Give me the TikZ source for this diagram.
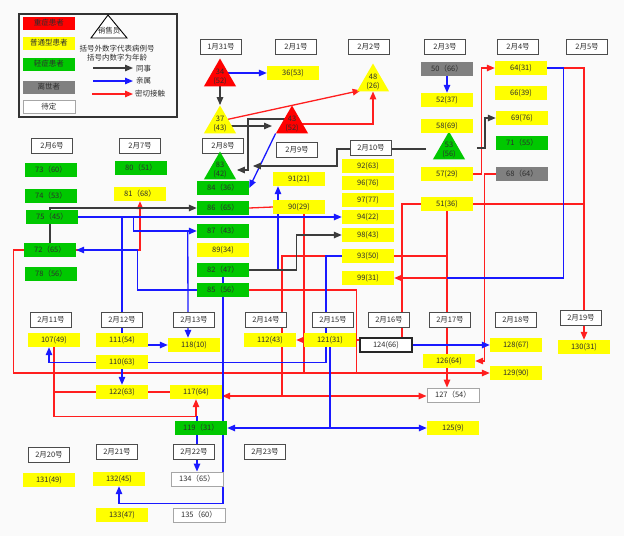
\documentclass[tikz,border=0pt]{standalone}
\usepackage{fontspec}
\setmainfont{Noto Sans CJK SC}
\usetikzlibrary{arrows.meta,shapes.geometric,calc}
\pgfdeclarelayer{back}
\pgfdeclarelayer{lines}
\pgfsetlayers{back,lines,main}

\definecolor{sevred}{RGB}{255,0,0}
\definecolor{normyel}{RGB}{255,255,0}
\definecolor{mildgrn}{RGB}{0,200,0}
\definecolor{deadgray}{RGB}{128,128,128}
\definecolor{linered}{RGB}{255,30,30}
\definecolor{lineblue}{RGB}{25,25,255}
\definecolor{linedark}{RGB}{60,60,60}
\definecolor{txt}{RGB}{45,45,45}

\tikzset{
  txtbase/.style={inner sep=0pt, font=\fontsize{7.5}{9}\selectfont, text=txt},
  ptcase/.style={txtbase, minimum width=52pt, minimum height=14pt},
  ptsev/.style={ptcase, fill=sevred},
  ptnorm/.style={ptcase, fill=normyel},
  ptmild/.style={ptcase, fill=mildgrn},
  ptdead/.style={ptcase, fill=deadgray},
  ptpend/.style={ptcase, fill=white, draw=black!35, line width=0.9pt},
  datebox/.style={txtbase, minimum width=41pt, minimum height=15pt, fill=white, draw=black!70, line width=1.1pt},
  tri/.style={regular polygon, regular polygon sides=3, minimum size=37pt, inner sep=0pt},
  arr/.style={-{Triangle[length=8pt,width=6.5pt]}},
  col/.style={draw=linedark, line width=1.3pt},
  kin/.style={draw=lineblue, line width=1.3pt},
  con/.style={draw=linered, line width=1.3pt},
}

\begin{document}
\begin{tikzpicture}[x=1pt,y=-1pt]
    \begin{pgfonlayer}{back}
        \fill[black!2] (0,0) rectangle (624,536);
    \end{pgfonlayer}
    \useasboundingbox (0,0) rectangle (624,536);

    % legend
    \draw[line width=1.2pt, draw=black!80] (19,14) rectangle (177,117);
    \node[ptsev, minimum height=13pt] (lgsev) at (49,23) {重症患者};
    \node[ptnorm, minimum height=13pt] (lgnorm) at (49,43) {普通型患者};
    \node[ptmild, minimum height=13pt] (lgmild) at (49,64) {轻症患者};
    \node[ptdead, minimum height=13pt] (lgdead) at (49,87) {离世者};
    \node[ptpend, minimum height=13pt] (lgpend) at (49,107) {待定};
    \draw[line width=0.9pt, fill=white] (91,38) -- (108,15) -- (127,38) -- cycle;
    \node[txtbase] (lgsales) at (109,31) {销售员};
    \node[txtbase] (lgnote1) at (117,49) {括号外数字代表病例号};
    \node[txtbase] (lgnote2) at (117,58) {括号内数字为年龄};
    \draw[col,arr] (93,68) -- (133,68);
    \draw[kin,arr] (93,81) -- (133,81);
    \draw[con,arr] (92,94) -- (133,94);
    \node[txtbase, anchor=west] (lgcol) at (136,69) {同事};
    \node[txtbase, anchor=west] (lgkin) at (136,81) {亲属};
    \node[txtbase, anchor=west] (lgcon) at (135,94) {密切接触};

    % dates
    \node[datebox] (d0131) at (221,47) {1月31号};
    \node[datebox] (d0201) at (296,47) {2月1号};
    \node[datebox] (d0202) at (369,47) {2月2号};
    \node[datebox] (d0203) at (445,47) {2月3号};
    \node[datebox] (d0204) at (518,47) {2月4号};
    \node[datebox] (d0205) at (587,47) {2月5号};
    \node[datebox] (d0206) at (52,146) {2月6号};
    \node[datebox] (d0207) at (140,146) {2月7号};
    \node[datebox] (d0208) at (223,146) {2月8号};
    \node[datebox] (d0209) at (297,150) {2月9号};
    \node[datebox] (d0210) at (371,148) {2月10号};
    \node[datebox] (d0211) at (51,320) {2月11号};
    \node[datebox] (d0212) at (122,320) {2月12号};
    \node[datebox] (d0213) at (194,320) {2月13号};
    \node[datebox] (d0214) at (266,320) {2月14号};
    \node[datebox] (d0215) at (333,320) {2月15号};
    \node[datebox] (d0216) at (389,320) {2月16号};
    \node[datebox] (d0217) at (450,320) {2月17号};
    \node[datebox] (d0218) at (516,320) {2月18号};
    \node[datebox] (d0219) at (581,318) {2月19号};
    \node[datebox] (d0220) at (49,455) {2月20号};
    \node[datebox] (d0221) at (117,452) {2月21号};
    \node[datebox] (d0222) at (194,452) {2月22号};
    \node[datebox] (d0223) at (265,452) {2月23号};

    % sales staff
    \node[tri, fill=sevred, label={[txtbase,align=center]center:34\\(52)}] (t34) at (220,77) {};
    \node[tri, fill=normyel, label={[txtbase,align=center]center:48\\(26)}] (t48) at (373,82) {};
    \node[tri, fill=normyel, label={[txtbase,align=center]center:37\\(43)}] (t37) at (220,124) {};
    \node[tri, fill=sevred, label={[txtbase,align=center]center:43\\(52)}] (t43) at (292,124) {};
    \node[tri, fill=mildgrn, label={[txtbase,align=center]center:83\\(42)}] (t83) at (220,170) {};
    \node[tri, fill=mildgrn, label={[txtbase,align=center]center:53\\(56)}] (t53) at (449,150) {};

    % cases
    \node[ptnorm] (c36) at (293,73) {36(53)};
    \node[ptdead] (c50) at (447,69) {50（66）};
    \node[ptnorm] (c52) at (447,100) {52(37)};
    \node[ptnorm] (c58) at (447,126) {58(69)};
    \node[ptnorm] (c57) at (447,174) {57(29)};
    \node[ptnorm] (c51) at (447,204) {51(36)};
    \node[ptnorm] (c64) at (521,68) {64(31)};
    \node[ptnorm] (c66) at (521,93) {66(39)};
    \node[ptnorm] (c69) at (522,118) {69(76)};
    \node[ptmild] (c71) at (522,143) {71（55）};
    \node[ptdead] (c68) at (522,174) {68（64）};
    \node[ptmild] (c73) at (51,170) {73（60）};
    \node[ptmild] (c80) at (141,168) {80（51）};
    \node[ptmild] (c74) at (51,196) {74（53）};
    \node[ptnorm] (c81) at (140,194) {81（68）};
    \node[ptmild] (c75) at (52,217) {75（45）};
    \node[ptmild] (c72) at (50,250) {72（65）};
    \node[ptmild] (c78) at (51,274) {78（56）};
    \node[ptmild] (c84) at (223,188) {84（36）};
    \node[ptmild] (c86) at (223,208) {86（65）};
    \node[ptmild] (c87) at (223,231) {87（43）};
    \node[ptnorm] (c89) at (223,250) {89(34)};
    \node[ptmild] (c82) at (223,270) {82（47）};
    \node[ptmild] (c85) at (223,290) {85（56）};
    \node[ptnorm] (c91) at (299,179) {91(21)};
    \node[ptnorm] (c90) at (299,207) {90(29)};
    \node[ptnorm] (c92) at (368,166) {92(63)};
    \node[ptnorm] (c96) at (368,183) {96(76)};
    \node[ptnorm] (c97) at (368,200) {97(77)};
    \node[ptnorm] (c94) at (368,217) {94(22)};
    \node[ptnorm] (c98) at (368,235) {98(43)};
    \node[ptnorm] (c93) at (368,256) {93(50)};
    \node[ptnorm] (c99) at (368,278) {99(31)};
    \node[ptnorm] (c107) at (54,340) {107(49)};
    \node[ptnorm] (c111) at (122,340) {111(54)};
    \node[ptnorm] (c118) at (194,345) {118(10)};
    \node[ptnorm] (c112) at (270,340) {112(43)};
    \node[ptnorm] (c121) at (330,340) {121(31)};
    \node[ptcase, fill=white, draw=black!85, line width=1.1pt] (c124) at (386,345) {124(66)};
    \node[ptnorm] (c126) at (449,361) {126(64)};
    \node[ptnorm] (c128) at (516,345) {128(67)};
    \node[ptnorm] (c129) at (516,373) {129(90)};
    \node[ptpend] (c127) at (453,395) {127（54）};
    \node[ptnorm] (c125) at (453,428) {125(9)};
    \node[ptnorm] (c130) at (584,347) {130(31)};
    \node[ptnorm] (c110) at (122,362) {110(63)};
    \node[ptnorm] (c122) at (122,392) {122(63)};
    \node[ptnorm] (c117) at (196,392) {117(64)};
    \node[ptmild] (c119) at (201,428) {119（31）};
    \node[ptnorm] (c131) at (49,480) {131(49)};
    \node[ptnorm] (c132) at (119,479) {132(45)};
    \node[ptnorm] (c133) at (122,515) {133(47)};
    \node[ptpend] (c134) at (197,479) {134（65）};
    \node[ptpend] (c135) at (199,515) {135（60）};

    \begin{pgfonlayer}{lines}
        % close contact
        \draw[con,arr] ($(t37.corner 1)!0.5!(t37.corner 3)$) -- ($(t48.corner 2)+(4,-1)$);
        \draw[con,arr] (t43.center) -| (t48.south);
        \draw[con,arr] (c57.east) -- ++(8,0) |- (c64.west);
        \draw[con,arr] ($(c64.east)+(16,0)$) -| (c130.north);
        \draw[con] (c51.east) -- (c51.east -| c130.north);
        \draw[con] (c51.west) -| ($(c124.north)+(16,0)$);
        \draw[con,arr] (c51.south) -- (c51.south |- c127.north);
        \draw[con,arr] (c51.south |- c99.east) -- (c99.east);
        \draw[con] (c93.east) -- (c93.east -| c51.south);
        \coordinate (j93) at (282,396);
        \draw[con,arr] (c93.west) -| (j93) -- (j93 -| c117.east);
        \draw[con,arr] (j93) -- (j93 -| c127.west);
        \draw[con,arr] (c72.west) -- ++(-10,0) |- (c129.west);
        \draw[con] (c85.east) -| ($(c121.east)+(0,33)$);
        \draw[con] ($(c90.south)+(5,0)$) -- ++(0,158);
        \draw[con] (c86.east) -- (c90.west);
        \draw[con,arr] (c72.east) -| (c81.south);
        \draw[con,arr] (c107.south) -- ++(0,69) -| (c117.south);
        \draw[con] (c122.west) -- (c122.west -| c107.south);
        \draw[con] (c122.east) -- (c117.west);
        \draw[con,arr] (c124.west |- c112.east) -- (c112.east);
        \draw[con,arr] (c68.west) -- ++(-11,0) |- (c126.east);
        % relatives
        \draw[kin,arr] (t34.center |- c36.west) -- (c36.west);
        \draw[kin,arr] (t43.corner 2) -- (c84.east);
        \draw[kin,arr] (c50.south) -- (c52.north);
        \draw[kin,arr] (c75.east) -- (c94.west);
        \draw[kin] (c75.east -| c111.north) -- (c111.north);
        \draw[kin,arr] ($(c75.east)+(55,0)$) |- (c87.west);
        \draw[kin,arr] ($(c87.west)+(-9,0)$) -- ($(c118.north)+(-6,0)$);
        \draw[kin,arr] (c111.east |- c118.west) -- (c118.west);
        \draw[kin,arr] (c85.west) -| ($(c72.east)+(61,0)$) -- (c72.east);
        \draw[kin,arr] (c82.east) -| ($(c91.south)+(-21,0)$);
        \draw[kin,arr] (c82.south) -- ++(0,226) -| (c132.south);
        \draw[kin] (c64.east) -- ++(16,0) |- (c51.south |- c99.east);
        \draw[kin,arr] (c124.east) -- (c128.west);
        \draw[kin,arr] (c93.west) -| ($(c121.south)+(-4,15)$) -| ($(c107.south)+(-5,0)$);
        \draw[kin,arr] (c110.south) -- (c122.north);
        \draw[kin,arr] (c121.south) |- (c119.east);
        \draw[kin,arr] (c121.south) |- (c125.west);
        \draw[kin,arr] ($(c134.north |- c119.north)+(0,-5)$) -- (c134.north);
        % colleagues
        \draw[col,arr] (t34.south) -- (t37.north);
        \draw[col,arr] ($(t37.center)+(10,2)$) -- ($(t43.center)+(-20,2)$);
        \draw[col,arr] ($(t43.center)+(-2,-5)$) -| ($(t83.east)+(17,0)$) -- ($(t83.east)+(6,0)$);
        \draw[col,arr] ($(t53.west)+(-12,-1)$) -| (337,166) -- ($(t83.east)+(22,-4)$);
        \draw[col,arr] ($(t53.east)+(17,-2)$) -- ++(8,0) |- (c69.west);
        \draw[col,arr] (c72.north) |- (c86.west);
        \draw[col,arr] (c82.east) -- ++(47,0) |- (c98.west);
    \end{pgfonlayer}
\end{tikzpicture}
\end{document}
